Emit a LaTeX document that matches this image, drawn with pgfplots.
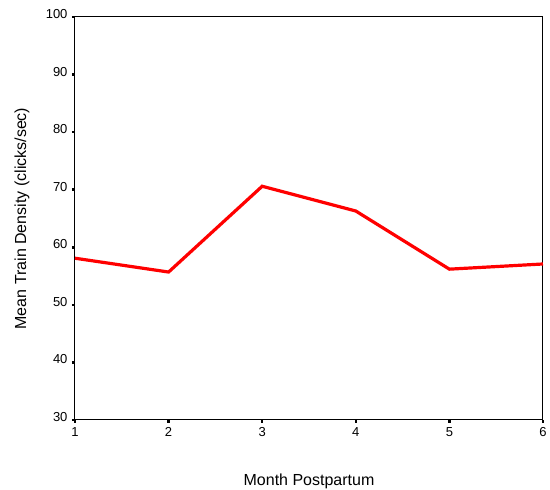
\documentclass[border=0pt]{standalone}
\usepackage{pgfplots}
\pgfplotsset{compat=1.18}
\usepackage{fontspec}
\setmainfont{Liberation Sans}
\begin{document}
\begin{tikzpicture}
\useasboundingbox (-75pt,-70pt) rectangle (475pt,420pt);
\begin{axis}[
  at={(0pt,0pt)}, anchor=origin,
  scale only axis, width=468pt, height=403pt,
  xmin=1, xmax=6, ymin=30, ymax=100,
  xtick={1,2,3,4,5,6}, ytick={30,40,...,100},
  tick pos=left,
  tick align=outside, major tick length=3pt,
  tick style={black, line width=2.5pt},
  axis line style={line width=1pt},
  /pgf/number format/assume math mode=true,
  ticklabel style={font=\fontsize{13}{15}\selectfont},
  yticklabel style={xshift=-1pt, yshift=3pt},
  xticklabel style={yshift=-1pt},
  xlabel={Month Postpartum}, ylabel={Mean Train Density (clicks/sec)},
  label style={font=\fontsize{16}{19}\selectfont},
  xlabel style={at={(axis description cs:0.5,0)}, anchor=center, yshift=-61pt},
  ylabel style={at={(axis description cs:0,0.5)}, anchor=center, rotate=0, yshift=53pt},
  clip=false,
]
\addplot[red, line width=3.2pt, line join=miter] coordinates {
(1,58.1) (2,55.7) (3,70.6) (4,66.3) (5,56.2) (6,57.1)
};
\end{axis}
\end{tikzpicture}
\end{document}
